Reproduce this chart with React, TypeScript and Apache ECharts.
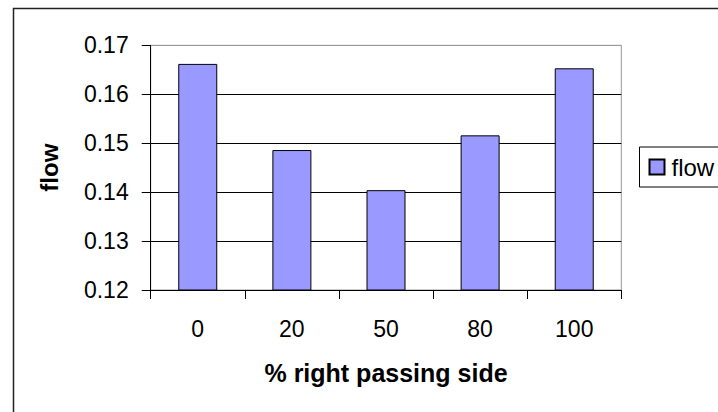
import React, { useEffect, useRef } from "react";
import * as echarts from "echarts";

const categories = ["0", "20", "50", "80", "100"];
const flowValues = [0.1662, 0.1486, 0.1404, 0.1516, 0.1653];
const seriesName = "flow";
const xTitle = "% right passing side";
const yTitle = "flow";

export default function App() {
  const ref = useRef<HTMLDivElement>(null);
  useEffect(() => {
    if (!ref.current) return;
    const chart = echarts.init(ref.current, undefined, { renderer: "svg" });
    const font = "'Liberation Sans', Arial, sans-serif";
    chart.setOption({
      animation: false,
      backgroundColor: "#fff",
      textStyle: { fontFamily: font },
      graphic: [
        {
          type: "rect",
          shape: { x: 13.5, y: 8.5, width: 800, height: 500 },
          style: { fill: "none", stroke: "#222", lineWidth: 1.5 },
          z: 0,
        },
      ],
      grid: {
        left: 150.7,
        top: 45.3,
        right: 96.7,
        bottom: 122,
        show: true,
        borderColor: "#999",
        borderWidth: 1,
        backgroundColor: "transparent",
      },
      legend: {
        show: true,
        left: 639.5,
        top: 147,
        orient: "vertical",
        borderColor: "#000",
        borderWidth: 1,
        padding: [8, 40, 8, 9],
        itemWidth: 15,
        itemHeight: 15,
        itemGap: 5,
        textStyle: { fontFamily: font, fontSize: 24, color: "#000", padding: [0, 0, 0, 2] },
        data: [{ name: seriesName, icon: "rect" }],
      },
      xAxis: {
        type: "category",
        data: categories,
        boundaryGap: true,
        name: xTitle,
        nameLocation: "middle",
        nameGap: 70,
        nameTextStyle: { fontFamily: font, fontSize: 25, fontWeight: "bold", color: "#000" },
        axisLine: { show: true, lineStyle: { color: "#000", width: 1 } },
        axisTick: { show: true, length: 9, lineStyle: { color: "#000", width: 1 } },
        axisLabel: { fontFamily: font, fontSize: 23, color: "#000", margin: 27 },
        splitLine: { show: false },
      },
      yAxis: {
        type: "value",
        min: 0.12,
        max: 0.17,
        interval: 0.01,
        name: yTitle,
        nameLocation: "middle",
        nameGap: 89,
        nameRotate: 90,
        nameTextStyle: { fontFamily: font, fontSize: 24, fontWeight: "bold", color: "#000" },
        axisLine: { show: true, lineStyle: { color: "#000", width: 1 } },
        axisTick: { show: true, length: 9, lineStyle: { color: "#000", width: 1 } },
        axisLabel: {
          fontFamily: font,
          fontSize: 23,
          color: "#000",
          margin: 22,
          formatter: (v: number) => v.toFixed(2),
        },
        splitLine: {
          show: true,
          lineStyle: { color: ["#000", "#000", "#000", "#000", "#000", "#999"], width: 1 },
        },
      },
      series: [
        {
          name: seriesName,
          type: "bar",
          data: flowValues,
          barWidth: 39,
          itemStyle: { color: "#9999FF", borderColor: "#000", borderWidth: 1 },
        },
      ],
    });
    return () => chart.dispose();
  }, []);
  return (
    <div
      ref={ref}
      style={{ position: "fixed", left: 0, top: 0, width: 718, height: 412 }}
    />
  );
}
